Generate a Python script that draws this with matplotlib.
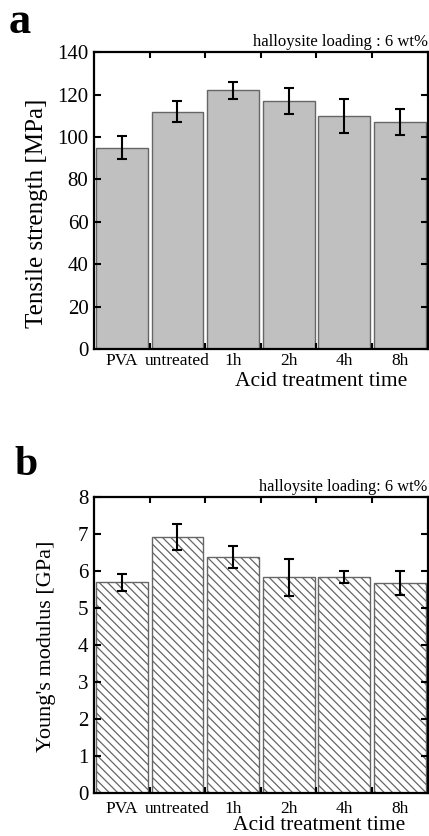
import numpy as np
import matplotlib
matplotlib.use("Agg")
import matplotlib.pyplot as plt

plt.rcParams['font.family'] = ['Liberation Serif', 'DejaVu Serif']
plt.rcParams['hatch.linewidth'] = 0.9

# data
groups = ["PVA", "untreated", "1h", "2h", "4h", "8h"]
tensile = [95, 112, 122, 117, 110, 107]
tensile_err = [5.5, 5, 4, 6, 8, 6]
modulus = [5.7, 6.93, 6.38, 5.83, 5.85, 5.67]
modulus_err = [0.23, 0.35, 0.29, 0.5, 0.16, 0.32]


def draw_panel(ax, vals, errs, ymax, yticks, hatch, face, xpad):
    x = np.arange(len(groups)) + 0.5
    ax.bar(x, vals, width=0.93, color=face, edgecolor="#666666", linewidth=1.0,
           hatch=hatch)
    ax.errorbar(x, vals, yerr=errs, fmt="none", ecolor="black", elinewidth=1.5,
                capsize=3.5, capthick=1.5)
    ax.set_xlim(0, len(groups))
    ax.set_ylim(0, ymax)
    ax.set_yticks(yticks)
    ax.set_xticks(x)
    ax.set_xticklabels(groups, fontsize=12.5)
    ax.set_xticks(np.arange(1, len(groups)), minor=True)
    ax.tick_params(axis="x", which="major", length=0, pad=xpad)
    ax.tick_params(axis="x", which="minor", direction="in", top=True,
                   bottom=True, length=4, width=1.5)
    ax.tick_params(axis="y", direction="in", right=True, length=5, width=1.5,
                   labelsize=15, pad=4)
    for s in ax.spines.values():
        s.set_linewidth(1.6)


fig = plt.figure(figsize=(4.29, 8.36), dpi=100)
ax1 = fig.add_axes([0.219, 0.5825, 0.778, 0.355])
ax2 = fig.add_axes([0.219, 0.0514, 0.778, 0.354])

draw_panel(ax1, tensile, tensile_err, 140, range(0, 141, 20), None, "#c0c0c0", 2.5)
draw_panel(ax2, modulus, modulus_err, 8, range(0, 9), "\\\\\\\\", "white", 5.5)

fig.text(37 / 429, 1 - 213 / 836, "Tensile strength [MPa]", rotation=90,
         ha="center", va="center", fontsize=18)
fig.text(47 / 429, 1 - 646 / 836, "Young's modulus [GPa]", rotation=90,
         ha="center", va="center", fontsize=16)

ax1.text(1.0, 1.008, "halloysite loading : 6 wt%", transform=ax1.transAxes,
         ha="right", va="bottom", fontsize=12)
ax2.text(1.0, 1.008, "halloysite loading: 6 wt%", transform=ax2.transAxes,
         ha="right", va="bottom", fontsize=11.8)

fig.text(321 / 429, 1 - 381 / 836, "Acid treatment time", ha="center",
         va="center", fontsize=15.5)
fig.text(319 / 429, 1 - 825 / 836, "Acid treatment time", ha="center",
         va="center", fontsize=15.5)

fig.text(9 / 429, 1 - 22 / 836, "a", fontsize=32, fontweight="bold",
         ha="left", va="center")
fig.text(14 / 429, 1 - 465 / 836, "b", fontsize=30, fontweight="bold",
         ha="left", va="center")

fig.savefig("out.png", dpi=100)
